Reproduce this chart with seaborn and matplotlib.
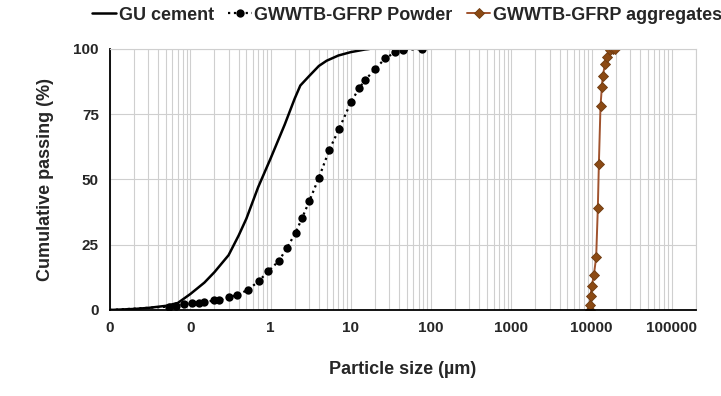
import matplotlib
matplotlib.use("Agg")
import matplotlib.pyplot as plt
import seaborn as sns
import numpy as np
import pandas as pd

# GU cement (solid line)
gu_size = [0.01, 0.02, 0.03, 0.05, 0.07, 0.1, 0.15, 0.2, 0.3, 0.4, 0.5, 0.7, 1, 1.5, 2, 2.35, 3, 4, 5, 7, 10, 15, 17]
gu_pass = [0, 0.4, 0.8, 1.6, 2.7, 6.1, 10.5, 14.5, 21, 28.5, 35, 47, 58, 71, 81, 86, 89.5, 93.5, 95.5, 97.5, 98.8, 99.8, 100]

# GWWTB-GFRP powder (dotted line + circles), first point only anchors the line
pw_size = [0.01, 0.055, 0.067, 0.084, 0.106, 0.129, 0.148, 0.198, 0.228, 0.303, 0.385, 0.527, 0.716, 0.934,
           1.27, 1.61, 2.05, 2.47, 3.05, 3.98, 5.41, 7.1, 10.1, 12.8, 15.1, 20.1, 26.8, 35.7, 45.3, 76.4]
pw_pass = [0, 1.3, 1.7, 2.2, 2.6, 2.6, 2.9, 3.7, 3.7, 5.0, 5.7, 7.8, 11.1, 14.8,
           18.8, 23.9, 29.6, 35.2, 41.8, 50.5, 61.4, 69.2, 79.8, 85.1, 88.1, 92.3, 96.4, 98.7, 99.6, 100]

# GWWTB-GFRP aggregates (brown line + diamonds)
ag_size = [9620, 9530, 9720, 10090, 10680, 11410, 11970, 12330, 12930, 13430, 13810, 14750, 15490, 16870, 18400, 19500]
ag_pass = [0, 1.9, 5.5, 9.3, 13.4, 20.2, 39.1, 55.9, 78.3, 85.3, 89.8, 94.3, 97.1, 99.5, 100, 100]

decade_ticks = [0.01, 0.1, 1, 10, 100, 1000, 10000, 100000]
decade_labels = ["0", "0", "1", "10", "100", "1000", "10000", "100000"]
y_ticks = [0, 25, 50, 75, 100]

sns.set_style("white")
plt.rcParams['font.family'] = ['Liberation Sans', 'DejaVu Sans']
plt.rcParams['font.weight'] = 'bold'

fig = plt.figure(figsize=(7.21, 3.96), dpi=100)
ax = fig.add_axes([0.1526, 0.2172, 0.8127, 0.6591])

ax.set_xscale("log")
ax.set_xlim(0.01, 2e5)
ax.set_ylim(0, 100)

# grid
ax.set_xticks(decade_ticks)
ax.set_xticklabels(decade_labels)
minors = [m * 10.0 ** e for e in range(-2, 6) for m in range(2, 10)]
ax.set_xticks([v for v in minors if v <= 2e5], minor=True)
ax.grid(True, which="both", axis="x", color="#cfcfcf", lw=0.8)
ax.grid(True, which="major", axis="y", color="#cfcfcf", lw=0.8)
ax.tick_params(axis="x", which="minor", length=0)
ax.tick_params(axis="both", which="major", direction="out", length=4, width=1, color="black",
               labelsize=11, pad=4)
ax.set_yticks(y_ticks)

df_gu = pd.DataFrame({"size": gu_size, "passing": gu_pass})
df_pw = pd.DataFrame({"size": pw_size, "passing": pw_pass})
df_ag = pd.DataFrame({"size": ag_size, "passing": ag_pass})

sns.lineplot(data=df_gu, x="size", y="passing", ax=ax, sort=False, estimator=None,
             color="black", lw=1.8, label="GU cement")
sns.lineplot(data=df_pw, x="size", y="passing", ax=ax, sort=False, estimator=None,
             color="black", lw=1.6, ls=":", marker="o", markersize=6, markeredgewidth=0,
             markevery=list(range(1, len(pw_size))), label="GWWTB-GFRP Powder")
sns.lineplot(data=df_ag, x="size", y="passing", ax=ax, sort=False, estimator=None,
             color="#a0522d", lw=1.4, marker="D", markersize=5.5, markerfacecolor="#8b4a14",
             markeredgecolor="#6e3a10", markeredgewidth=0.6, label="GWWTB-GFRP aggregates")

for side in ["left", "bottom"]:
    ax.spines[side].set_color("black")
    ax.spines[side].set_linewidth(1.3)
for side in ["top", "right"]:
    ax.spines[side].set_color("#cfcfcf")
    ax.spines[side].set_linewidth(0.8)

ax.set_xlabel("Particle size (µm)", fontsize=13, fontweight="bold", labelpad=19)
ax.set_ylabel("Cumulative passing (%)", fontsize=13, fontweight="bold", labelpad=14)

handles, labels = ax.get_legend_handles_labels()
ax.get_legend().remove()
fig.legend(handles, labels, loc="center", bbox_to_anchor=(0.565, 0.962), ncol=3, frameon=False,
           handlelength=1.3, handletextpad=0.15, columnspacing=0.8,
           prop={"weight": "bold", "size": 13})

fig.savefig("out.png", dpi=100)
